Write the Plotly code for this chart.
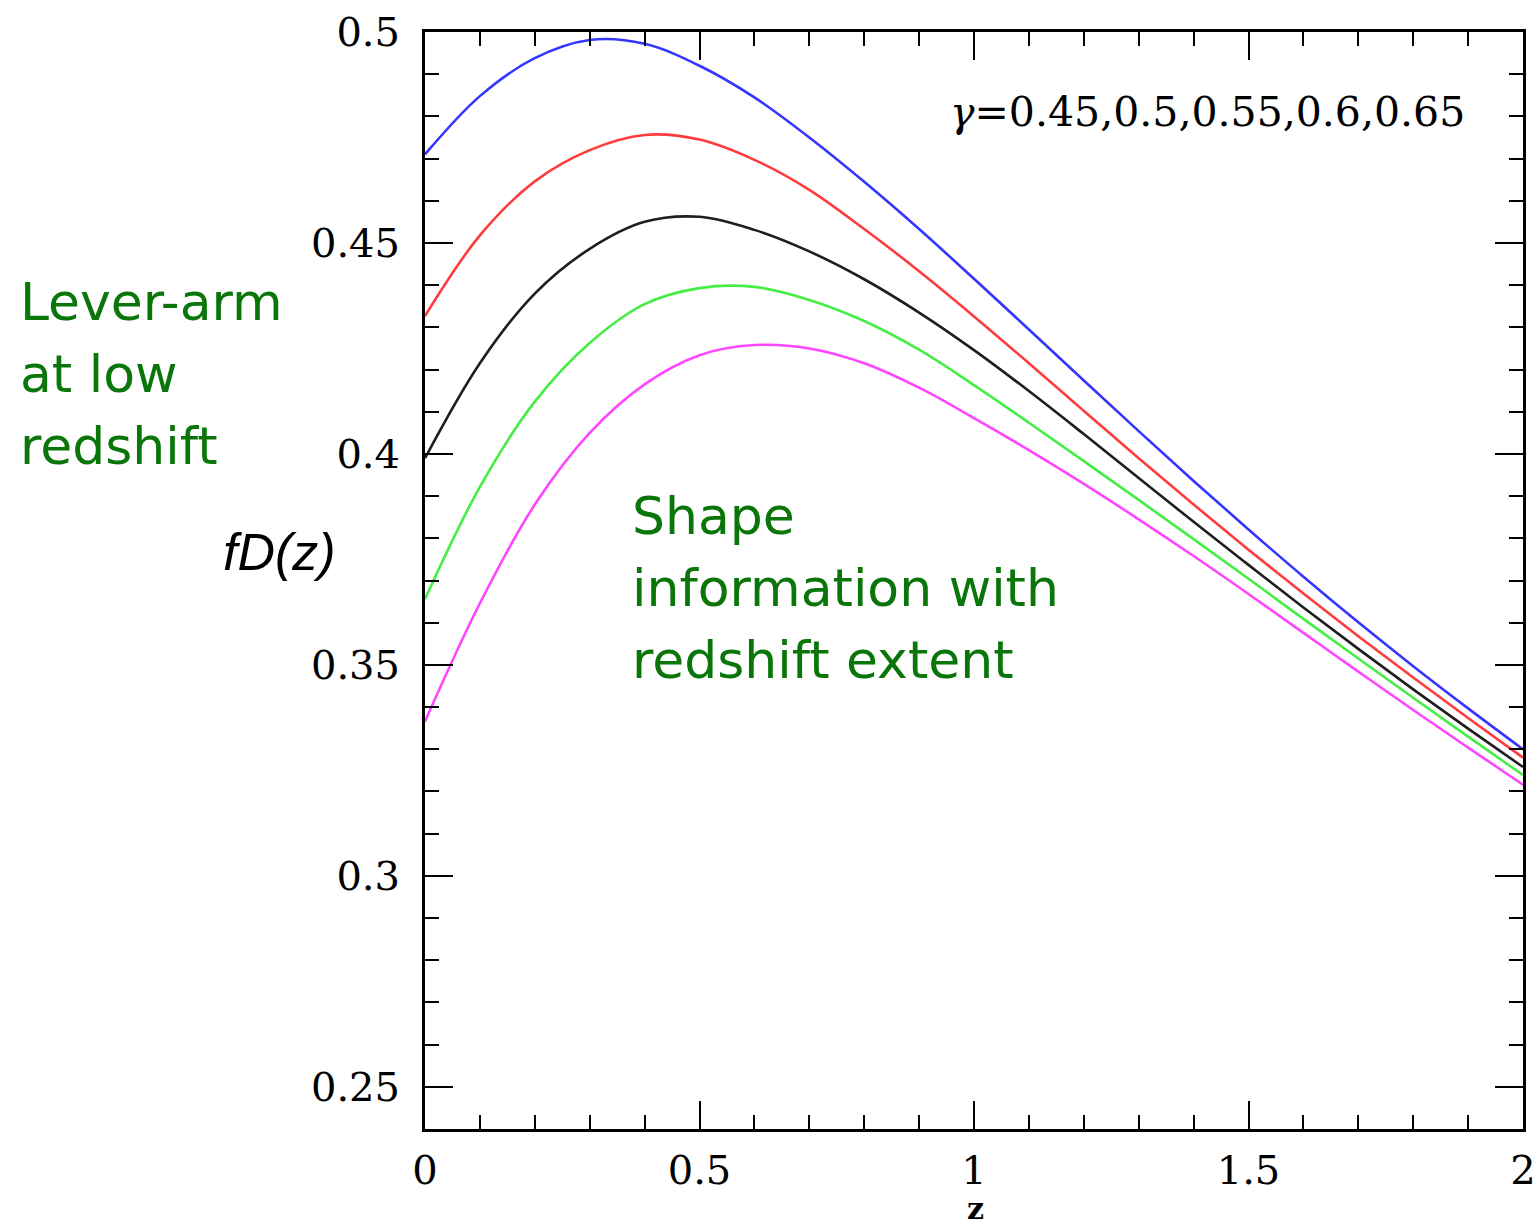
import plotly.graph_objects as go

# Redshift grid and fD(z) curves for five growth indices
z = [0.0, 0.1, 0.2, 0.3, 0.4, 0.5, 0.6, 0.7, 0.8, 0.9, 1.0,
     1.1, 1.2, 1.3, 1.4, 1.5, 1.6, 1.7, 1.8, 1.9, 2.0]
gammas = ["0.45", "0.5", "0.55", "0.6", "0.65"]
fd_045 = [0.4710, 0.4848, 0.4938, 0.4981, 0.4972, 0.4920, 0.4845, 0.4750, 0.4645, 0.4533, 0.4415,
          0.4295, 0.4174, 0.4054, 0.3936, 0.3821, 0.3709, 0.3601, 0.3497, 0.3397, 0.3300]
fd_050 = [0.4327, 0.4518, 0.4646, 0.4720, 0.4756, 0.4745, 0.4697, 0.4626, 0.4533, 0.4433, 0.4326,
          0.4215, 0.4102, 0.3990, 0.3880, 0.3773, 0.3669, 0.3568, 0.3470, 0.3374, 0.3280]
fd_055 = [0.3990, 0.4215, 0.4380, 0.4486, 0.4550, 0.4562, 0.4531, 0.4480, 0.4414, 0.4335, 0.4246,
          0.4149, 0.4047, 0.3943, 0.3839, 0.3737, 0.3636, 0.3538, 0.3442, 0.3349, 0.3258]
fd_060 = [0.3656, 0.3922, 0.4124, 0.4263, 0.4355, 0.4393, 0.4396, 0.4365, 0.4315, 0.4247, 0.4163,
          0.4074, 0.3983, 0.3891, 0.3798, 0.3704, 0.3609, 0.3515, 0.3422, 0.3330, 0.3239]
fd_065 = [0.3366, 0.3646, 0.3880, 0.4050, 0.4165, 0.4234, 0.4258, 0.4250, 0.4215, 0.4157, 0.4085,
          0.4009, 0.3929, 0.3845, 0.3758, 0.3668, 0.3576, 0.3484, 0.3393, 0.3304, 0.3216]

series = [fd_045, fd_050, fd_055, fd_060, fd_065]
colors = ["#3535ff", "#ff3b3b", "#1e1e1e", "#45ee45", "#ff45ff"]

W, H = 1536, 1228
L, R, T, B = 425, 13, 32, 99
PW, PH = W - L - R, H - T - B


def px(x):
    return (x - L) / PW


def py(y):
    return (H - B - y) / PH


fig = go.Figure()
for vals, col, g in zip(series, colors, gammas):
    fig.add_trace(go.Scatter(
        x=z, y=vals, mode="lines", name="γ=" + g,
        line=dict(color=col, width=2.6, shape="spline", smoothing=1.0),
        showlegend=False, cliponaxis=True,
    ))

serif = "DejaVu Serif"
axis_common = dict(
    showgrid=False, zeroline=False, showline=True, linecolor="black",
    linewidth=3, mirror="allticks", ticks="inside", ticklen=28,
    tickwidth=2, tickcolor="black",
    tickfont=dict(family=serif, size=40, color="black"),
)

fig.update_xaxes(
    range=[0, 2], tick0=0, dtick=0.5, ticklabelstandoff=4,
    minor=dict(dtick=0.1, ticks="inside", ticklen=14, tickwidth=2, tickcolor="black"),
    **axis_common,
)
fig.update_yaxes(
    range=[0.24, 0.5], tick0=0.25, dtick=0.05, ticklabelstandoff=14,
    minor=dict(dtick=0.01, ticks="inside", ticklen=14, tickwidth=2, tickcolor="black"),
    **axis_common,
)

green = "#0a760a"
ann = []


def text(s, x, y, size, color, family, xanchor="left"):
    ann.append(dict(
        text=s, x=px(x), y=py(y), xref="paper", yref="paper",
        xanchor=xanchor, yanchor="middle", showarrow=False,
        font=dict(family=family, size=size, color=color),
    ))


# Gamma values legend
text("<i>γ</i>=0.45,0.5,0.55,0.6,0.65", 1467, 112, 41, "black", serif, xanchor="right")

# Side notes
sans = "DejaVu Sans"
for i, line in enumerate(["Lever-arm", "at low", "redshift"]):
    text(line, 18, 302 + 72 * i, 52, green, sans)
for i, line in enumerate(["Shape", "information with", "redshift extent"]):
    text(line, 630, 516 + 72 * i, 52, green, sans)

# Axis titles
text("<i>fD(z)</i>", 279, 552, 52, "black", "Liberation Sans", xanchor="center")
text("<b>z</b>", 975, 1208, 30, "black", serif, xanchor="center")

fig.update_layout(
    width=W, height=H,
    margin=dict(l=L, r=R, t=T, b=B, autoexpand=False),
    paper_bgcolor="white", plot_bgcolor="white",
    annotations=ann,
)

fig.write_html("out.html")
